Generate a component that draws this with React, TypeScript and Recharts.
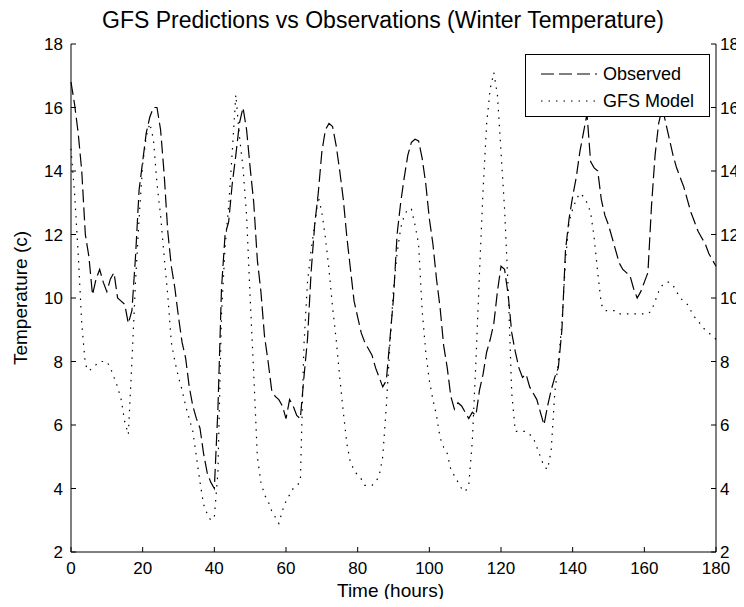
import React from "react";
import { LineChart, Line, XAxis, YAxis, Legend } from "recharts";

const FONT = "'Liberation Sans', Arial, Helvetica, sans-serif";

const xTicks = [0, 20, 40, 60, 80, 100, 120, 140, 160, 180];
const yTicks = [2, 4, 6, 8, 10, 12, 14, 16, 18];

// hourly readings, hour 0..180
const observed = [
  16.8, 16.1, 15.2, 14.0, 12.0, 11.3, 10.1, 10.6, 10.9, 10.5,
  10.2, 10.6, 10.8, 10.0, 9.9, 9.8, 9.2, 9.6, 11.3, 13.4,
  14.3, 15.2, 15.7, 16.0, 16.0, 15.3, 13.9, 12.1, 11.0, 10.3,
  9.4, 8.6, 8.1, 7.2, 6.6, 6.2, 5.9, 5.1, 4.5, 4.2,
  4.0, 6.5, 10.3, 12.0, 12.4, 13.6, 14.5, 15.5, 16.0, 15.3,
  14.1, 13.0, 11.2, 10.2, 8.8, 8.0, 7.1, 6.9, 6.8, 6.6,
  6.2, 6.8, 6.6, 6.3, 6.2, 7.5, 8.7, 10.8, 12.3, 13.3,
  14.6, 15.3, 15.5, 15.4, 14.8, 14.0, 13.1, 11.9, 10.9, 9.9,
  9.4, 8.9, 8.6, 8.4, 8.2, 7.8, 7.5, 7.2, 7.4, 8.7,
  10.0, 12.0, 13.0, 13.8, 14.5, 14.9, 15.0, 14.95, 14.4, 13.6,
  12.5, 11.7, 10.6, 9.7, 8.5, 7.8, 6.9, 6.5, 6.7, 6.6,
  6.4, 6.2, 6.4, 6.3, 7.1, 7.6, 8.3, 8.7, 9.2, 10.2,
  11.0, 10.9, 10.1, 8.9, 8.3, 7.8, 7.5, 7.6, 7.2, 7.0,
  6.8, 6.4, 6.0, 6.6, 7.1, 7.5, 7.8, 9.0, 11.5, 12.5,
  13.2, 13.8, 14.6, 15.2, 15.8, 14.3, 14.1, 14.0, 13.1, 12.6,
  12.3, 11.9, 11.5, 11.1, 10.9, 10.8, 10.7, 10.3, 10.0, 10.2,
  10.5, 10.8, 12.9, 14.5, 15.5, 16.0, 15.5, 15.0, 14.5, 14.1,
  13.8, 13.5, 13.1, 12.7, 12.4, 12.1, 11.9, 11.7, 11.4, 11.2,
  11.0,
];

const gfsModel = [
  14.7, 13.3, 11.4, 9.2, 7.9, 7.7, 7.8, 7.9, 8.0, 8.0,
  8.0, 7.8, 7.5, 7.2, 6.8, 6.1, 5.7, 8.0, 10.5, 12.5,
  14.2, 15.1, 15.5, 15.0, 13.6, 12.6, 11.3, 10.1, 8.6, 8.0,
  7.5, 7.1, 6.6, 6.2, 5.8, 5.0, 4.2, 3.5, 3.2, 3.0,
  3.1, 4.5, 9.5, 11.6, 12.9, 14.6, 16.4, 15.1, 14.1, 12.6,
  10.0, 7.6, 5.0, 4.2, 3.8, 3.6, 3.3, 3.1, 2.9, 3.3,
  3.6, 3.8, 4.0, 4.1, 4.2, 8.5, 10.5, 11.5, 12.3, 13.2,
  12.7, 11.9, 10.9, 9.7, 8.7, 7.5, 6.4, 5.4, 4.8, 4.6,
  4.4, 4.3, 4.1, 4.1, 4.1, 4.2, 4.4, 5.0, 6.6, 8.5,
  10.3, 11.4, 12.2, 12.6, 12.8, 12.8, 12.3, 11.7, 9.6, 8.3,
  7.4, 6.8, 6.3, 5.6, 5.3, 5.1, 4.6, 4.4, 4.2, 4.0,
  3.9, 4.1, 5.5, 8.0, 10.8, 13.4, 15.5, 16.6, 17.1, 16.4,
  14.6, 12.8, 10.3, 7.0, 5.8, 5.8, 5.8, 5.8, 5.7, 5.6,
  5.3, 5.0, 4.7, 4.6, 5.2, 7.0, 8.0, 9.2, 11.2, 12.4,
  12.8, 13.1, 13.3, 13.2, 13.0, 12.7, 11.9, 10.8, 9.8, 9.6,
  9.6, 9.6, 9.6, 9.5, 9.5, 9.5, 9.5, 9.5, 9.5, 9.5,
  9.5, 9.5, 9.6, 9.9, 10.2, 10.4, 10.5, 10.5, 10.4, 10.2,
  10.0, 9.9, 9.8, 9.6, 9.4, 9.3, 9.1, 9.0, 8.9, 8.8,
  8.7,
];

const data = observed.map((v, i) => ({ hour: i, observed: v, gfs: gfsModel[i] }));

const OBS_DASH = "13 5";
const GFS_DASH = "1.5 6";

function LegendBox() {
  const rows = [
    { label: "Observed", dash: OBS_DASH, top: 19 },
    { label: "GFS Model", dash: GFS_DASH, top: 46 },
  ];
  return (
    <div
      style={{
        position: "relative",
        width: 185,
        height: 63,
        boxSizing: "border-box",
        border: "1px solid #000",
        background: "#fff",
        fontFamily: FONT,
        fontSize: 18,
        color: "#000",
      }}
    >
      {rows.map((r) => (
        <div key={r.label} style={{ position: "absolute", left: 0, top: r.top - 11, height: 22, width: 183 }}>
          <svg width={60} height={22} style={{ position: "absolute", left: 15, top: 0 }}>
            <line x1={0} y1={11} x2={56} y2={11} stroke="#000" strokeWidth={1.2} strokeDasharray={r.dash} />
          </svg>
          <span style={{ position: "absolute", left: 77, top: 0, lineHeight: "22px", whiteSpace: "nowrap" }}>
            {r.label}
          </span>
        </div>
      ))}
    </div>
  );
}

const XLabel = ({ viewBox }: any) => (
  <text x={viewBox.x + viewBox.width / 2 - 3} y={597} textAnchor="middle" fontSize={19} fontFamily={FONT} fill="#000">
    Time (hours)
  </text>
);

const YLabel = ({ viewBox }: any) => {
  const cy = viewBox.y + viewBox.height / 2;
  return (
    <text
      x={27}
      y={cy}
      transform={`rotate(-90, 27, ${cy})`}
      textAnchor="middle"
      fontSize={19}
      fontFamily={FONT}
      fill="#000"
    >
      Temperature (c)
    </text>
  );
};

const tickStyle = { fill: "#000", fontSize: 17, fontFamily: FONT };
const axisStroke = { stroke: "#000", strokeWidth: 1 };

export default function App() {
  return (
    <div style={{ margin: -8, width: 744, height: 607, background: "#fff", position: "relative" }}>
      <LineChart width={744} height={607} data={data} margin={{ top: 44, right: 0, bottom: 0, left: 0 }}>
        <text x={383} y={28} textAnchor="middle" fontSize={23} fontFamily={FONT} fill="#000">
          GFS Predictions vs Observations (Winter Temperature)
        </text>
        <XAxis
          dataKey="hour"
          type="number"
          domain={[0, 180]}
          ticks={xTicks}
          height={55}
          tick={tickStyle}
          tickSize={-5}
          tickMargin={15}
          axisLine={axisStroke}
          tickLine={axisStroke}
          label={<XLabel />}
        />
        <XAxis
          xAxisId="top"
          orientation="top"
          dataKey="hour"
          type="number"
          domain={[0, 180]}
          allowDataOverflow
          ticks={xTicks}
          interval={0}
          height={0}
          tick={tickStyle}
          tickFormatter={() => ""}
          tickSize={-5}
          axisLine={axisStroke}
          tickLine={axisStroke}
        />
        <YAxis
          domain={[2, 18]}
          ticks={yTicks}
          width={71}
          tick={tickStyle}
          tickSize={-5}
          tickMargin={13}
          axisLine={axisStroke}
          tickLine={axisStroke}
          label={<YLabel />}
        />
        <YAxis
          yAxisId="right"
          orientation="right"
          domain={[2, 18]}
          allowDataOverflow
          ticks={yTicks}
          width={28}
          tick={tickStyle}
          tickSize={-5}
          tickMargin={9}
          axisLine={axisStroke}
          tickLine={axisStroke}
        />
        <Legend
          layout="horizontal"
          align="center"
          verticalAlign="middle"
          wrapperStyle={{ left: 525, top: 54, width: 185, height: 63 }}
          content={() => <LegendBox />}
        />
        <Line
          type="linear"
          dataKey="observed"
          name="Observed"
          stroke="#000"
          strokeWidth={1.2}
          strokeDasharray={OBS_DASH}
          dot={false}
          activeDot={false}
          isAnimationActive={false}
        />
        <Line
          type="linear"
          dataKey="gfs"
          name="GFS Model"
          stroke="#000"
          strokeWidth={1.2}
          strokeDasharray={GFS_DASH}
          dot={false}
          activeDot={false}
          isAnimationActive={false}
        />
      </LineChart>
    </div>
  );
}
